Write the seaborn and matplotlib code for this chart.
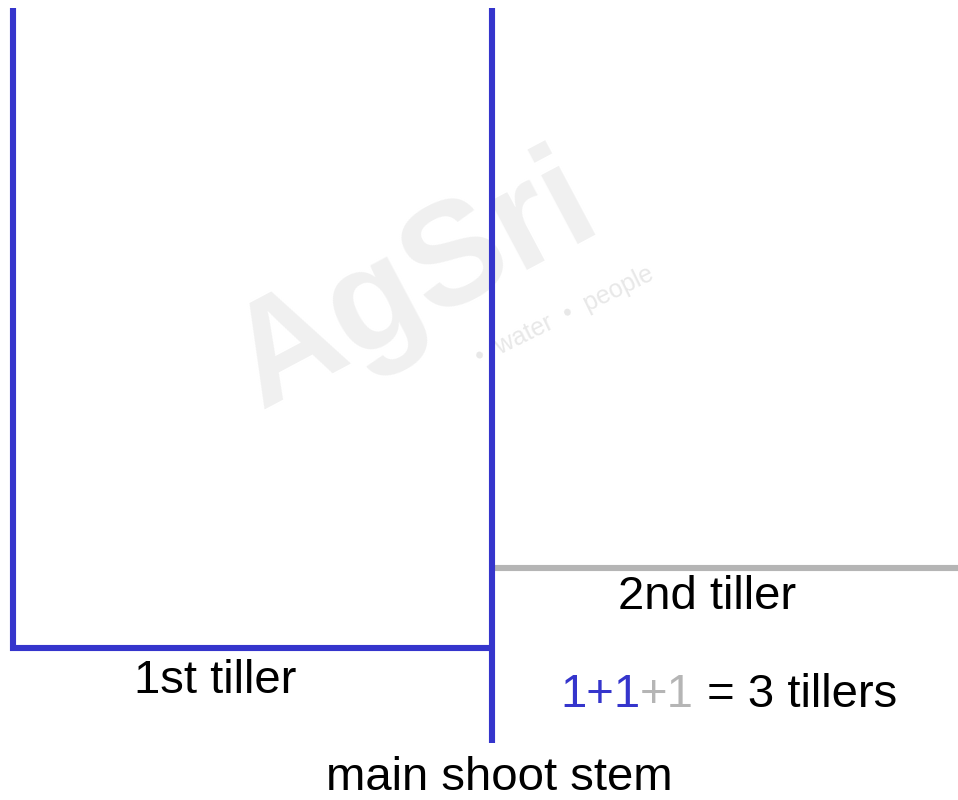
import matplotlib
matplotlib.use("Agg")
import matplotlib.pyplot as plt
import seaborn as sns
import pandas as pd

# Diagram geometry (pixel-like units, y grows downward)
main_stem_x = [492.5, 492.5]
main_stem_y = [8, 743]
tiller1_x = [13, 13, 492.5]
tiller1_y = [8, 647.5, 647.5]
tiller2_x = [495, 958]
tiller2_y = [567.5, 567.5]

labels = ["1st tiller", "2nd tiller", "main shoot stem"]
label_x = [215, 707, 499]
label_y = [681, 597, 778]

blue = "#3535cc"
grey = "#b5b5b5"

sns.set_theme(style="white")
plt.rcParams["font.family"] = ["Liberation Sans", "DejaVu Sans"]

fig = plt.figure(figsize=(9.58, 8.0), dpi=100)
ax = fig.add_axes([0, 0, 1, 1])
ax.set_xlim(0, 958)
ax.set_ylim(800, 0)
ax.axis("off")

# faint watermark
ax.text(415, 285, "AgSri", rotation=28, fontsize=105, fontweight="bold",
        color="#f0f0f0", ha="center", va="center", zorder=0)
ax.text(565, 315, "\u2022  water  \u2022  people", rotation=26, fontsize=18,
        color="#e8e8e8", ha="center", va="center", zorder=0)

def seg(xs, ys, color):
    df = pd.DataFrame({"x": xs, "y": ys, "order": range(len(xs))})
    sns.lineplot(data=df, x="x", y="y", sort=False, estimator=None,
                 color=color, lw=4.4, ax=ax, legend=False,
                 solid_capstyle="butt", solid_joinstyle="miter")

seg(tiller2_x, tiller2_y, grey)
seg(tiller1_x, tiller1_y, blue)
seg(main_stem_x, main_stem_y, blue)
ax.set_xlim(0, 958)
ax.set_ylim(800, 0)
ax.axis("off")

ax.text(label_x[0], label_y[0], labels[0], fontsize=34, ha="center", va="center", color="black")
ax.text(label_x[1], label_y[1], labels[1], fontsize=34, ha="center", va="center", color="black")
ax.text(label_x[2], label_y[2], labels[2], fontsize=34, ha="center", va="center", color="black")

# equation with coloured parts
parts = [("1+1", blue), ("+1", grey), (" = 3 tillers", "black")]
x0 = 560
fig.canvas.draw()
renderer = fig.canvas.get_renderer()
inv = ax.transData.inverted()
for txt, col in parts:
    t = ax.text(x0, 695, txt, fontsize=34, ha="left", va="center", color=col)
    bb = t.get_window_extent(renderer=renderer)
    x1 = inv.transform((bb.x1, bb.y0))[0]
    x0 = x1

fig.savefig("out.png", dpi=100, facecolor="white")
